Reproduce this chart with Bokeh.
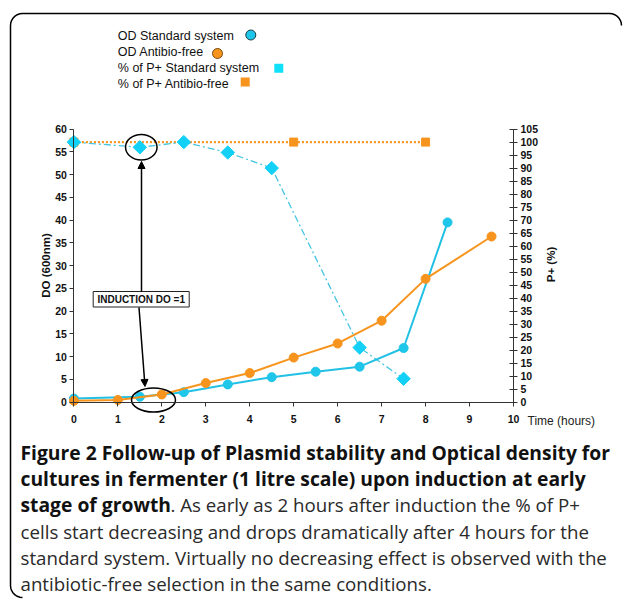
import numpy as np
from bokeh.plotting import figure
from bokeh.models import Range1d, LinearAxis, SingleIntervalTicker, Arrow, NormalHead
from bokeh.core.properties import value
from bokeh.embed import file_html
from bokeh.resources import INLINE

# ---------------- data ----------------
hours_od_std = [0, 1.5, 2.5, 3.5, 4.5, 5.5, 6.5, 7.5, 8.5]
od_std = [0.8, 1.2, 2.2, 3.9, 5.5, 6.7, 7.8, 11.9, 39.5]

hours_od_free = [0, 1, 2, 3, 4, 5, 6, 7, 8, 9.5]
od_free = [0.3, 0.5, 1.7, 4.2, 6.4, 9.8, 12.9, 17.9, 27.1, 36.4]

hours_pplus_std = [0, 1.5, 2.5, 3.5, 4.5, 6.5, 7.5]
pplus_std = [100, 98, 100, 96, 90, 21, 9]

hours_pplus_free = [0, 5, 8]
pplus_free = [100, 100, 100]

legend_labels = ["OD Standard system", "OD Antibio-free",
                 "% of P+ Standard system", "% of P+ Antibio-free"]
x_title = "Time (hours)"
left_title = "DO (600nm)"
right_title = "P+ (%)"
induction_text = "INDUCTION DO =1"
caption_bold_lines = ["Figure 2 Follow-up of Plasmid stability and Optical density for",
                      "cultures in fermenter (1 litre scale) upon induction at early",
                      "stage of growth"]
caption_normal_lines = [". As early as 2 hours after induction the % of P+",
                        "cells start decreasing and drops dramatically after 4 hours for the",
                        "standard system. Virtually no decreasing effect is observed with the",
                        "antibiotic-free selection in the same conditions."]

# ---------------- layout (page pixels) ----------------
W, H = 627, 601
PX0, PY0 = 0, 0
AX_X0, AX_X10 = 73.4, 513.0
AX_Y0, AX_Y60 = 401.7, 128.6

ux = (AX_X10 - AX_X0) / 10
x_start = -(AX_X0 - PX0) / ux
x_end = x_start + W / ux
uy = (AX_Y0 - AX_Y60) / 60
y_end = 60 + (AX_Y60 - PY0) / uy
y_start = y_end - H / uy
uyr = (AX_Y0 - AX_Y60) / 105
r_end = 105 + (AX_Y60 - PY0) / uyr
r_start = r_end - H / uyr

CYAN = "#1EC6EA"
CYAN_LINE = "#22C0E4"
ORANGE = "#F7941D"
ARIAL = value("Liberation Sans")
CAP_FONT = value("Open Sans")

p = figure(width=W, height=H,
           x_range=Range1d(x_start, x_end), y_range=Range1d(y_start, y_end),
           x_axis_location=None, y_axis_location=None,
           toolbar_location=None, output_backend="svg", min_border=0)
p.outline_line_color = None
p.background_fill_color = "white"
p.border_fill_color = "white"
p.extra_y_ranges = {"pp": Range1d(r_start, r_end), "py": Range1d(PY0 + H, PY0)}
p.extra_x_ranges = {"px": Range1d(PX0, PX0 + W)}
p.grid.visible = False


def style_axis(ax):
    ax.axis_line_color = "#333333"
    ax.axis_line_width = 1
    ax.major_tick_line_color = "#333333"
    ax.minor_tick_line_color = None
    ax.major_label_text_font = "Liberation Sans"
    ax.major_label_text_font_style = "bold"
    ax.major_label_text_font_size = "10.5px"
    ax.major_label_text_color = "#111111"


xax = LinearAxis(fixed_location=0, bounds=(0, 10), ticker=SingleIntervalTicker(interval=1))
style_axis(xax)
xax.major_tick_in = 0
xax.major_tick_out = 4
xax.major_label_standoff = 9
p.add_layout(xax, "below")

yl = LinearAxis(fixed_location=0, bounds=(0, 60), ticker=SingleIntervalTicker(interval=5))
style_axis(yl)
yl.major_tick_in = 0
yl.major_tick_out = 4
yl.major_label_standoff = 3
p.add_layout(yl, "left")

yr = LinearAxis(y_range_name="pp", fixed_location=10, bounds=(0, 105),
                ticker=SingleIntervalTicker(interval=5))
style_axis(yr)
yr.major_tick_in = 4
yr.major_tick_out = 4
yr.major_label_standoff = 3
p.add_layout(yr, "right")

# ---------------- series ----------------
p.line(hours_pplus_free, pplus_free, y_range_name="pp", line_color=ORANGE,
       line_width=2.2, line_dash="2 2")
p.scatter(hours_pplus_free, pplus_free, y_range_name="pp", marker="square",
          size=8, fill_color=ORANGE, line_color=ORANGE)

p.line(hours_pplus_std, pplus_std, y_range_name="pp", line_color="#45C6E2",
       line_width=1.3, line_dash="7 3 2 3")
p.scatter(hours_pplus_std, pplus_std, y_range_name="pp", marker="square",
          angle=np.pi / 4, size=9.5, fill_color="#12D0F6", line_color="#12D0F6")

p.line(hours_od_std, od_std, line_color=CYAN_LINE, line_width=2)
p.scatter(hours_od_std, od_std, marker="circle", size=9, fill_color=CYAN,
          line_color=CYAN)

p.line(hours_od_free, od_free, line_color=ORANGE, line_width=2)
p.scatter(hours_od_free, od_free, marker="circle", size=9, fill_color=ORANGE,
          line_color=ORANGE)

# ---------------- legend (drawn, text then marker) ----------------
p.text(x=[117.3] * 4, y=[35.3, 51.8, 67.6, 83.0], text=legend_labels,
       x_range_name="px", y_range_name="py", text_font=ARIAL,
       text_font_size="12.5px", text_baseline="middle", text_align="left",
       text_color="#111111")
p.scatter(x=[250.3, 217.0], y=[34.5, 53.0], x_range_name="px", y_range_name="py",
          marker="circle", size=10, fill_color=[CYAN, ORANGE],
          line_color=["#1a3b44", "#7a4a10"], line_width=1)
p.scatter(x=[278.3, 244.7], y=[67.8, 81.5], x_range_name="px", y_range_name="py",
          marker="square", size=9, fill_color=["#10E0F8", ORANGE], line_color=None)

# ---------------- axis titles ----------------
p.text(x=[45.0], y=[265.0], text=[left_title], angle=np.pi / 2,
       x_range_name="px", y_range_name="py", text_font=ARIAL,
       text_font_style="bold", text_font_size="11.5px",
       text_align="center", text_baseline="middle", text_color="#111111")
p.text(x=[550.0], y=[264.0], text=[right_title], angle=np.pi / 2,
       x_range_name="px", y_range_name="py", text_font=ARIAL,
       text_font_style="bold", text_font_size="11.5px",
       text_align="center", text_baseline="middle", text_color="#111111")
p.text(x=[527.0], y=[420.5], text=[x_title], x_range_name="px", y_range_name="py",
       text_font=ARIAL, text_font_size="12px", text_align="left",
       text_baseline="middle", text_color="#222222")

# ---------------- annotations ----------------
p.ellipse(x=[140.8, 153.0], y=[146.7, 399.5], width=[31.5, 44.0], height=[25.5, 24.0],
          x_range_name="px", y_range_name="py", fill_color=None,
          line_color="black", line_width=1.5)
p.add_layout(Arrow(end=NormalHead(size=7, fill_color="black", line_color="black"),
                   x_start=141.0, y_start=291.0, x_end=141.0, y_end=161.0,
                   x_range_name="px", y_range_name="py", line_width=1.5))
p.add_layout(Arrow(end=NormalHead(size=7, fill_color="black", line_color="black"),
                   x_start=138.5, y_start=307.0, x_end=144.5, y_end=386.0,
                   x_range_name="px", y_range_name="py", line_width=1.5))
p.quad(left=[92.7], right=[188.7], top=[291.0], bottom=[306.5],
       x_range_name="px", y_range_name="py", fill_color="white",
       line_color="#222222", line_width=1)
p.text(x=[140.7], y=[298.9], text=[induction_text], x_range_name="px",
       y_range_name="py", text_font=ARIAL, text_font_style="bold",
       text_font_size="10px", text_align="center", text_baseline="middle",
       text_color="#111111")

# ---------------- caption ----------------
cap_y = [452.0, 478.2, 504.4, 530.6, 556.8, 583.0]
p.text(x=[20.0] * 3, y=cap_y[:3], text=caption_bold_lines, x_range_name="px",
       y_range_name="py", text_font=CAP_FONT, text_font_style="bold",
       text_font_size="19.3px", text_align="left", text_baseline="middle",
       text_color="#111111")
p.text(x=[170.0, 20.0, 20.0, 20.0], y=cap_y[2:], text=caption_normal_lines,
       x_range_name="px", y_range_name="py", text_font=CAP_FONT,
       text_font_size="18.7px", text_align="left", text_baseline="middle",
       text_color="#2a2a2a")

# ---------------- frame border (partial rounded box) ----------------
r = 12.0
bl, bt, br, bb = 10.0, 13.0, 621.0, 597.0
t1 = np.linspace(np.pi / 2, np.pi, 8)
t2 = np.linspace(np.pi, 1.5 * np.pi, 8)
t3 = np.linspace(1.5 * np.pi, 2 * np.pi, 8)
bx = np.concatenate([bl + r + r * np.cos(t1), bl + r + r * np.cos(t2),
                     br - r + r * np.cos(t3)])
by = np.concatenate([bb - r + r * np.sin(t1), bt + r + r * np.sin(t2),
                     bt + r + r * np.sin(t3)])
p.line(bx, by, x_range_name="px", y_range_name="py", line_color="black",
       line_width=1.5)

open("out.html", "w").write(file_html(p, INLINE))
